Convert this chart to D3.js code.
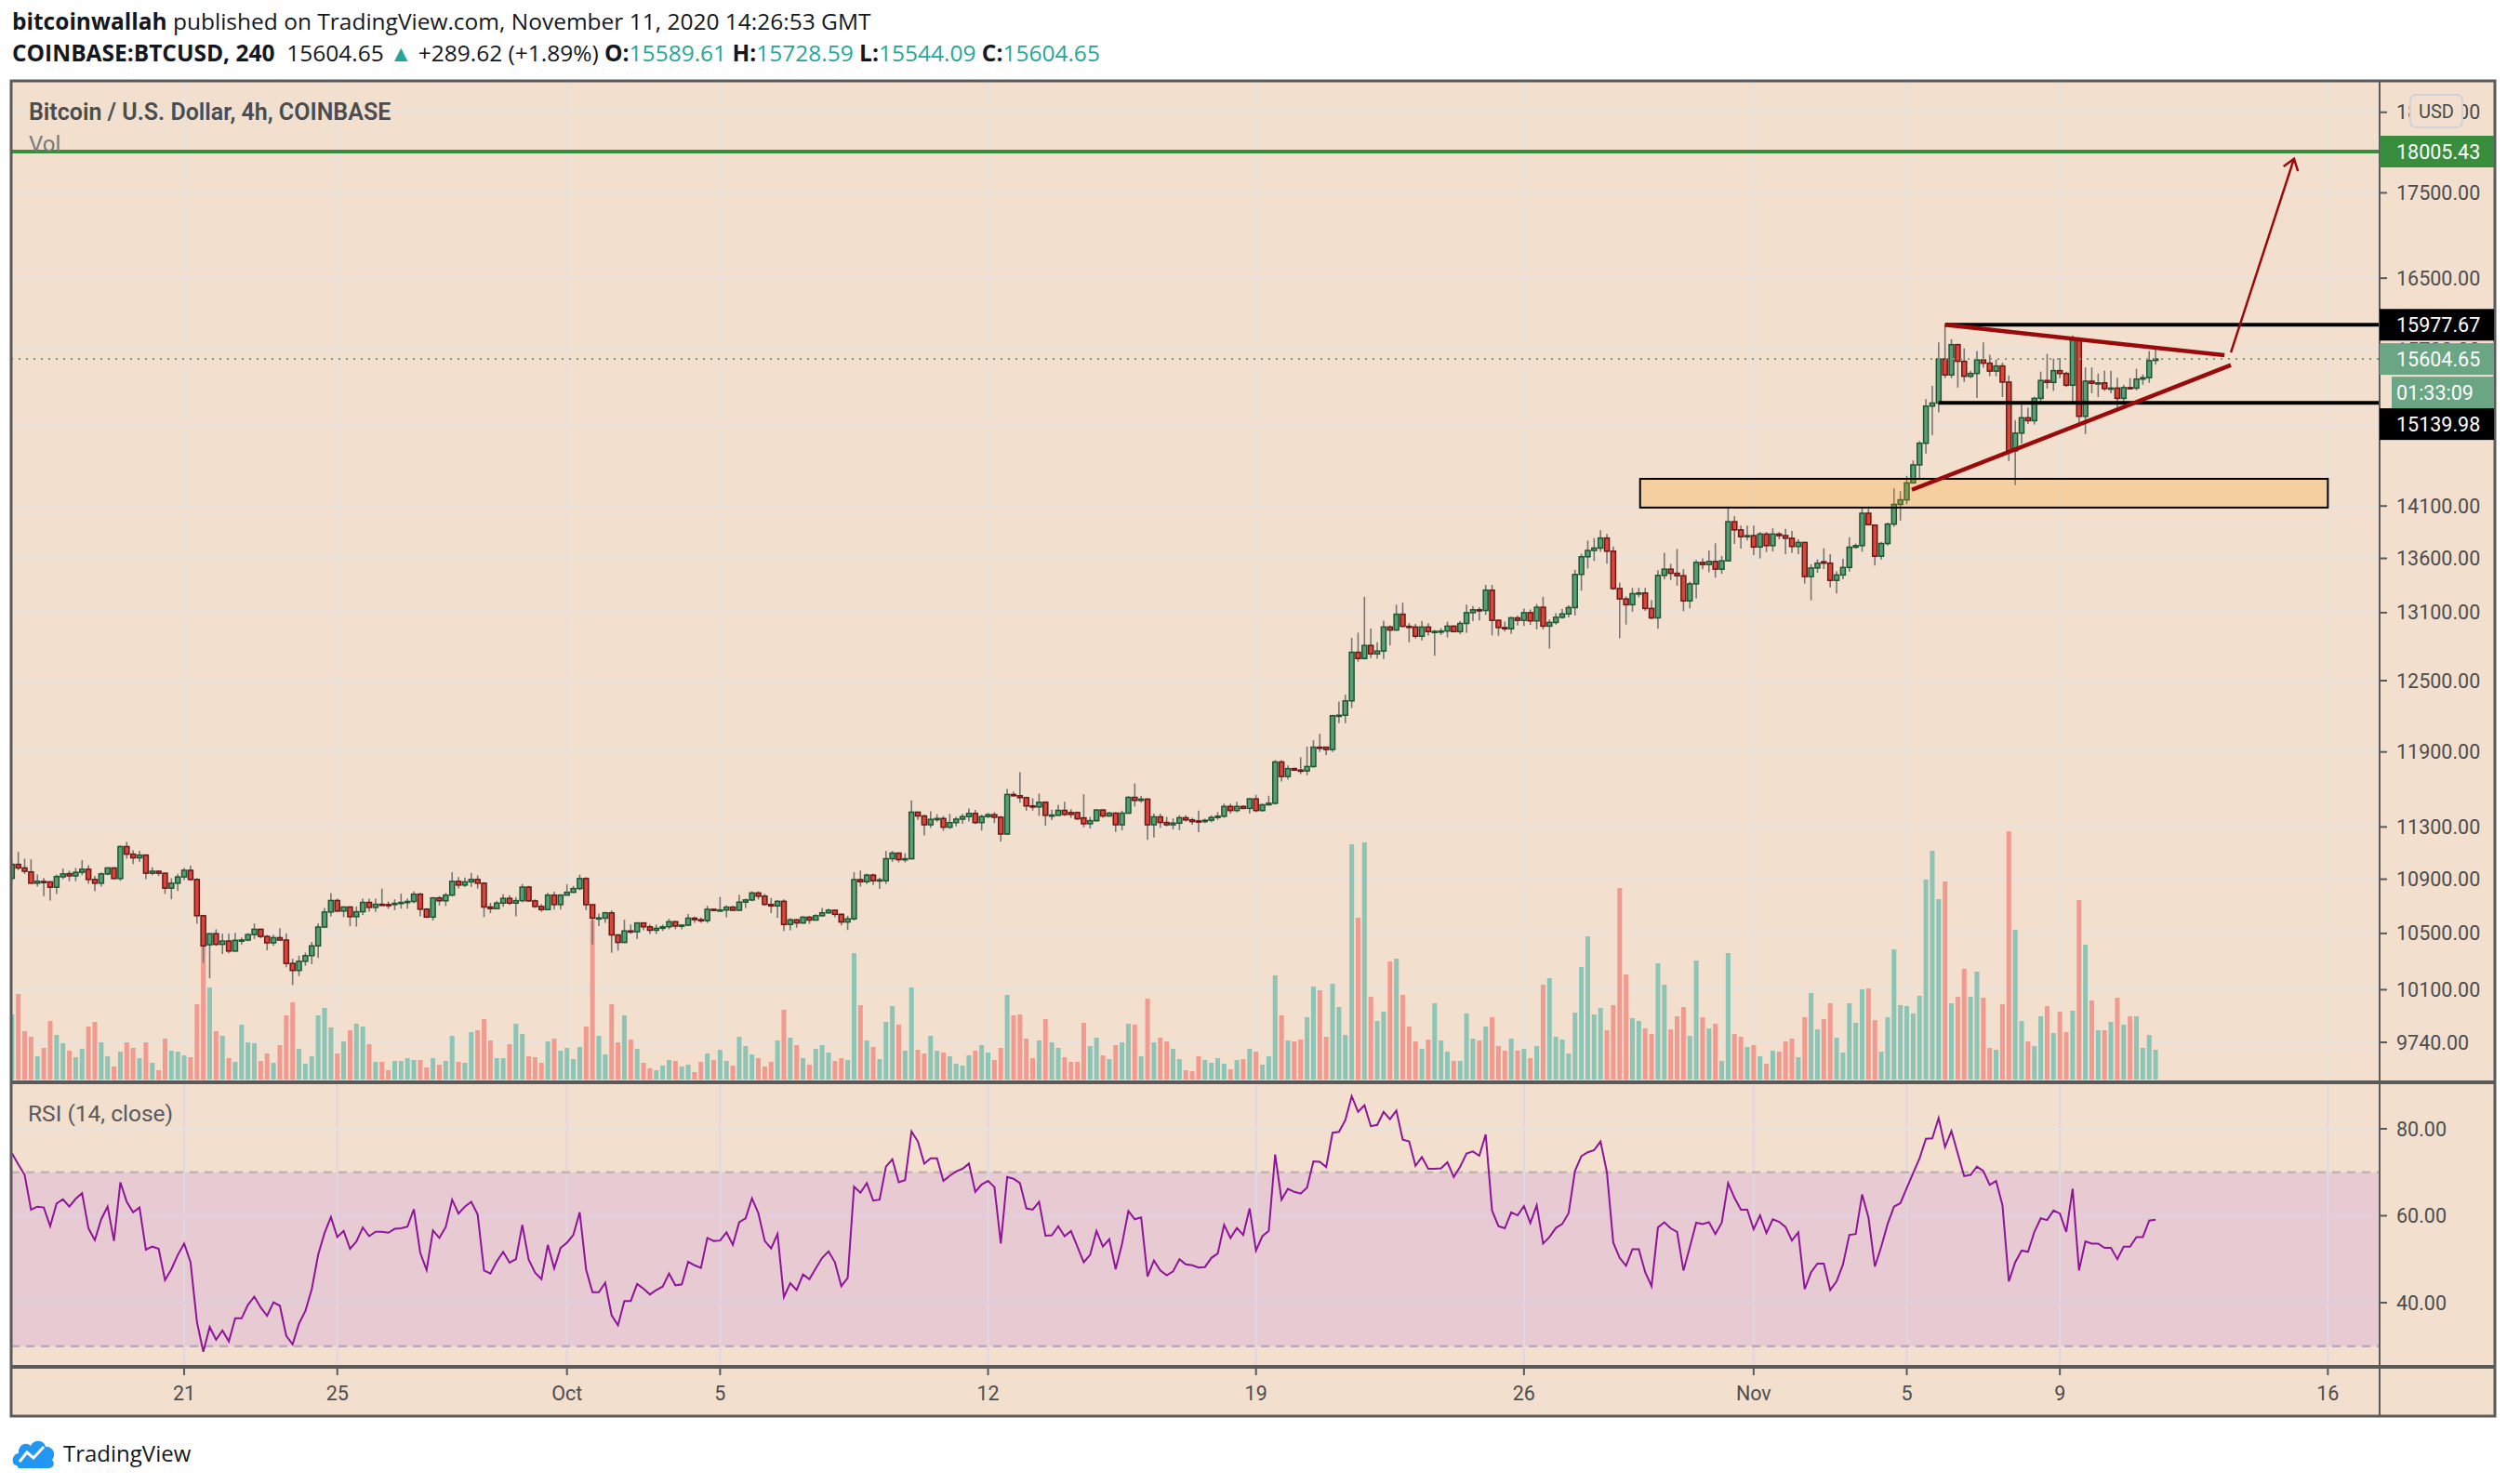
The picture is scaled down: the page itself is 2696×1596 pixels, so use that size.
<!DOCTYPE html>
<html><head><meta charset="utf-8">
<script src="https://cdn.jsdelivr.net/npm/d3@7"></script>
<style>body{margin:0;background:#fff}svg{display:block}</style>
</head><body>
<svg id="c" width="2696" height="1596"></svg>
<script>
// ---------------- DATA ----------------
const startTime = Date.UTC(2020, 8, 16, 12, 0, 0); // first 4h bar
const barMs = 4 * 3600 * 1000;

const opens = [
10907,11012,10985,10955,10870,10883,10880,10840,10918,10942,
10925,10952,10975,10898,10870,10940,10985,10905,11148,11090,
11062,11083,10945,10960,10945,10833,10870,10917,10967,10898,
10629,10418,10498,10421,10445,10373,10450,10452,10491,10530,
10478,10432,10469,10452,10285,10235,10300,10340,10410,10546,
10656,10741,10663,10693,10622,10658,10727,10690,10713,10711,
10711,10720,10727,10734,10788,10677,10619,10760,10739,10781,
10884,10856,10880,10898,10870,10693,10681,10722,10757,10722,
10740,10841,10738,10697,10674,10781,10711,10781,10802,10830,
10905,10710,10611,10611,10650,10489,10435,10518,10512,10576,
10548,10523,10537,10548,10585,10553,10560,10611,10600,10593,
10676,10669,10671,10692,10669,10729,10745,10797,10773,10712,
10701,10735,10565,10599,10576,10618,10597,10629,10650,10669,
10639,10583,10606,10897,10881,10931,10888,10888,11055,11098,
11048,11055,11416,11386,11317,11359,11366,11298,11334,11361,
11381,11406,11334,11381,11396,11376,11245,11556,11546,11531,
11465,11457,11494,11391,11391,11430,11413,11413,11371,11325,
11349,11433,11386,11408,11317,11408,11533,11509,11519,11317,
11379,11335,11317,11330,11372,11355,11347,11342,11352,11374,
11384,11461,11429,11461,11446,11521,11429,11474,11486,11818,
11700,11764,11752,11745,11781,11939,11939,11920,12201,12205,
12327,12747,12692,12807,12733,12758,12971,12944,13086,12977,
12971,12889,12971,12930,12932,12935,12979,12930,13003,13100,
13126,13120,13305,13031,12966,12955,13053,13031,13100,13026,
13149,12979,13012,13058,13089,13146,13450,13615,13674,13697,
13792,13668,13320,13225,13172,13273,13279,13138,13053,13441,
13499,13461,13438,13207,13363,13562,13542,13571,13499,13577,
13948,13870,13805,13815,13707,13830,13720,13830,13815,13790,
13712,13750,13430,13510,13568,13555,13395,13445,13515,13705,
13720,14030,13915,13620,13740,13925,14116,14160,14327,14506,
14724,15106,15138,15605,15434,15760,15580,15420,15450,15595,
15560,15475,15530,15358,14646,14827,14985,14955,15187,15375,
15355,15480,15450,15325,15810,15000,15368,15345,15350,15290,
15295,15187,15300,15295,15390,15405,15589.61];

const highs = [
11030,11107,11055,11050,10935,10910,10885,10935,10980,10965,
10985,11045,11005,10925,10952,10990,10990,11157,11185,11120,
11115,11085,10990,10965,10948,10907,10940,10985,11003,10907,
10636,10502,10530,10498,10498,10504,10470,10502,10572,10534,
10489,10491,10537,10500,10318,10340,10362,10438,10572,10686,
10796,10755,10697,10697,10697,10755,10755,10755,10830,10734,
10750,10792,10757,10808,10797,10686,10767,10774,10797,10953,
10916,10912,10947,10928,10877,10724,10738,10787,10780,10766,
10864,10850,10750,10715,10797,10806,10788,10863,10850,10935,
10916,10710,10645,10657,10668,10489,10600,10565,10576,10580,
10565,10565,10565,10606,10592,10565,10641,10622,10617,10702,
10682,10767,10706,10702,10784,10755,10809,10809,10790,10760,
10743,10750,10611,10604,10627,10627,10640,10685,10681,10676,
10646,10629,10953,10965,10943,10943,10912,11114,11114,11103,
11098,11509,11420,11395,11423,11400,11386,11403,11379,11403,
11445,11433,11396,11410,11416,11386,11600,11580,11735,11538,
11526,11563,11502,11435,11475,11499,11440,11420,11558,11379,
11440,11440,11420,11416,11428,11543,11644,11545,11526,11404,
11404,11379,11367,11392,11392,11372,11429,11365,11392,11416,
11483,11483,11498,11470,11528,11553,11484,11546,11833,11833,
11789,11772,11857,11944,11996,12050,11944,12208,12320,12380,
12875,12921,13245,12958,12835,13028,12985,13172,13190,13006,
12999,13026,13006,12944,12960,13020,12985,13025,13172,13161,
13149,13354,13354,13039,13020,13064,13075,13138,13129,13180,
13245,13039,13095,13132,13166,13493,13644,13768,13792,13866,
13830,13712,13375,13248,13326,13326,13326,13215,13490,13653,
13548,13688,13499,13384,13585,13600,13674,13742,13623,14095,
14002,13910,13910,13910,13850,13850,13885,13850,13880,13860,
13780,13750,13545,13590,13695,13640,13480,13595,13800,13740,
14085,14073,13920,13755,13940,14274,14245,14397,14550,14745,
15178,15318,15784,15977.67,15820,15770,15720,15480,15690,15784,
15650,15600,15565,15430,14962,15124,15090,15205,15470,15660,
15610,15615,15470,15860,15840,15515,15515,15450,15480,15480,
15405,15330,15400,15500,15440,15690,15728.59];

const lows = [
10890,10969,10940,10866,10845,10774,10740,10790,10900,10885,
10885,10930,10865,10810,10845,10930,10902,10888,11055,11015,
11030,10900,10930,10924,10790,10750,10812,10893,10888,10571,
10290,10180,10410,10351,10357,10368,10420,10443,10459,10465,
10378,10410,10448,10257,10133,10196,10268,10279,10323,10545,
10624,10658,10618,10553,10549,10635,10658,10656,10700,10680,
10670,10681,10681,10720,10624,10612,10594,10704,10700,10774,
10830,10842,10842,10830,10619,10647,10676,10694,10708,10624,
10727,10731,10686,10658,10670,10674,10674,10781,10797,10818,
10670,10420,10553,10576,10361,10376,10430,10496,10459,10523,
10496,10496,10518,10530,10530,10530,10553,10576,10576,10576,
10662,10660,10617,10664,10664,10685,10736,10748,10702,10648,
10613,10518,10523,10541,10569,10569,10595,10622,10645,10618,
10558,10525,10594,10845,10864,10857,10828,10864,11031,11027,
11027,11050,11355,11234,11293,11340,11270,11286,11305,11325,
11342,11322,11273,11370,11330,11186,11238,11538,11490,11428,
11428,11386,11310,11354,11386,11386,11371,11352,11298,11288,
11342,11371,11380,11261,11273,11403,11460,11490,11200,11218,
11293,11305,11280,11275,11342,11317,11260,11330,11335,11355,
11372,11404,11416,11440,11404,11416,11420,11469,11476,11660,
11677,11745,11720,11710,11771,11900,11875,11900,12138,12138,
12267,12664,12684,12697,12690,12687,12807,12938,12971,12835,
12868,12851,12895,12717,12900,12878,12925,12908,12920,13023,
13031,13080,12896,12893,12930,12910,12984,12980,12990,12950,
12950,12780,12992,13045,13058,13075,13300,13505,13576,13662,
13551,13306,12870,12993,13109,13240,13117,13040,12955,13404,
13398,13346,13114,13138,13230,13499,13470,13420,13455,13570,
13736,13692,13770,13630,13600,13660,13665,13780,13640,13650,
13640,13365,13212,13465,13500,13330,13275,13405,13475,13690,
13663,13915,13533,13590,13720,13900,13960,14116,14320,14370,
14620,14803,15042,15400,15400,15300,15360,15400,15190,15510,
15420,15420,15200,14545,14305,14720,14920,14915,15124,15290,
15265,15400,15305,15150,14935,14817,15240,15200,15265,15240,
15090,15150,15280,15270,15330,15350,15544.09];

const closes = [
11012,10985,10960,10870,10885,10880,10840,10920,10940,10925,
10952,10975,10898,10870,10940,10985,10905,11148,11090,11062,
11083,10945,10960,10945,10833,10870,10917,10967,10898,10629,
10410,10498,10421,10445,10373,10450,10452,10491,10530,10478,
10432,10469,10452,10285,10235,10300,10340,10410,10546,10656,
10741,10663,10693,10622,10658,10727,10690,10713,10711,10709,
10720,10727,10734,10788,10677,10619,10760,10739,10781,10884,
10856,10880,10898,10870,10693,10681,10722,10757,10722,10740,
10841,10738,10697,10674,10781,10711,10781,10802,10830,10905,
10710,10611,10613,10650,10489,10435,10518,10512,10576,10548,
10523,10537,10548,10585,10553,10560,10611,10600,10593,10676,
10669,10671,10692,10669,10729,10745,10797,10773,10712,10701,
10735,10565,10599,10576,10618,10597,10629,10650,10669,10639,
10583,10606,10897,10881,10931,10888,10895,11055,11098,11048,
11055,11416,11386,11317,11359,11366,11298,11334,11361,11381,
11406,11334,11381,11396,11376,11245,11556,11546,11531,11465,
11457,11494,11391,11393,11430,11398,11398,11364,11325,11349,
11433,11386,11408,11317,11408,11533,11509,11519,11317,11379,
11335,11317,11330,11372,11355,11342,11342,11352,11374,11384,
11461,11429,11461,11446,11521,11429,11474,11486,11818,11700,
11764,11752,11745,11781,11939,11935,11920,12201,12205,12327,
12747,12692,12807,12733,12758,12971,12944,13086,12977,12971,
12889,12971,12930,12932,12935,12979,12930,13003,13100,13126,
13120,13305,13031,12966,12955,13053,13031,13100,13026,13149,
12979,13012,13058,13089,13146,13450,13615,13674,13697,13792,
13668,13320,13225,13172,13273,13279,13138,13053,13441,13499,
13461,13438,13207,13363,13562,13542,13571,13499,13577,13948,
13870,13805,13815,13707,13830,13720,13830,13815,13790,13712,
13750,13430,13510,13555,13555,13395,13445,13515,13705,13720,
14030,13920,13620,13740,13925,14116,14160,14327,14506,14724,
15106,15138,15605,15434,15760,15580,15420,15450,15595,15560,
15475,15530,15358,14646,14827,14985,14955,15187,15375,15355,
15480,15450,15325,15810,15000,15368,15345,15350,15290,15295,
15187,15300,15295,15390,15405,15587,15604.65];

const volumes = [
70,92,52,46,25,34,63,48,39,31,
24,33,57,62,40,25,14,30,40,34,
23,40,18,10,44,31,30,26,24,81,
144,99,52,47,23,19,59,40,39,20,
28,18,37,69,83,33,17,25,69,77,
56,28,41,53,60,57,38,19,19,10,
20,20,23,21,21,13,23,16,20,47,
19,18,51,53,65,42,23,23,38,60,
49,25,24,18,41,44,31,34,22,35,
57,171,47,27,81,40,69,43,33,18,
12,10,15,21,20,14,16,8,19,28,
21,32,20,15,46,36,27,23,14,19,
42,75,45,37,23,16,33,37,29,20,
23,21,136,80,42,35,22,62,79,59,
31,99,32,28,47,31,29,25,17,15,
26,31,37,29,21,34,91,69,70,44,
23,42,65,40,34,24,19,19,61,36,
45,26,22,37,40,60,59,25,87,40,
45,41,33,22,10,9,25,21,18,23,
17,11,21,22,33,30,16,25,112,69,
42,41,43,67,100,96,46,103,78,48,
253,174,255,89,63,73,127,130,91,57,
41,33,43,82,42,30,20,20,71,44,
42,57,67,36,31,44,31,33,23,36,
102,109,46,43,28,72,121,154,70,77,
53,80,206,113,66,63,55,49,125,102,
54,68,78,47,128,67,55,60,20,136,
49,46,35,37,25,17,31,30,41,44,
24,67,93,54,65,82,45,29,82,61,
97,98,64,30,67,140,80,79,71,90,
215,246,194,213,82,89,119,89,116,88,
34,32,81,267,161,63,41,36,68,79,
50,73,51,74,193,145,85,53,53,62,
88,59,68,68,34,48,32];

const rsiValues = [
74.4,71.8,69.4,61.4,62.1,61.9,57.6,62.8,63.8,62.1,
63.9,65.2,57.1,54.4,59.2,62.1,54.2,67.7,63.2,60.8,
61.9,52.2,52.9,52.4,45.2,47.7,51.0,53.6,49.3,35.6,
28.7,34.4,31.5,33.6,31.1,36.4,36.4,39.5,41.4,38.9,
37.0,40.1,39.3,32.4,30.4,35.2,38.1,43.1,51.0,56.0,
59.7,55.1,56.5,52.4,54.1,57.3,55.3,56.3,56.3,56.1,
57.0,57.1,57.5,61.5,51.5,47.5,56.6,54.9,57.4,63.7,
60.5,62.1,63.2,60.3,47.4,46.7,49.5,51.7,49.2,50.0,
57.9,49.9,46.9,45.4,53.3,47.9,52.6,53.8,55.6,60.8,
47.6,42.4,42.4,44.6,37.1,34.8,40.4,40.4,44.3,43.2,
41.9,42.9,43.7,46.7,44.0,44.2,49.4,48.6,48.0,54.9,
54.2,54.3,56.2,53.3,58.5,59.4,64.0,60.6,54.2,52.5,
55.8,41.3,44.5,42.9,46.5,45.4,47.9,50.3,51.8,49.3,
43.8,45.7,66.7,65.3,67.5,63.5,63.7,71.3,73.0,67.7,
68.2,79.4,77.1,72.0,73.2,73.2,68.0,69.2,70.2,70.8,
72.0,65.5,67.2,68.0,66.6,53.6,68.9,68.5,67.5,61.7,
61.4,63.2,55.4,55.5,57.6,55.3,56.5,52.9,49.3,51.0,
56.5,52.9,54.6,47.7,53.5,61.1,59.2,59.6,46.0,49.7,
47.4,46.3,47.2,50.0,48.8,48.6,48.1,48.2,50.3,51.3,
57.9,54.9,57.2,55.6,61.7,52.0,55.3,56.5,74.1,63.7,
66.2,65.5,65.1,66.5,72.5,72.4,71.2,79.1,79.3,82.0,
87.5,83.9,85.4,80.6,80.9,83.9,82.2,84.2,77.5,77.1,
71.5,73.5,70.8,70.8,70.9,72.3,68.9,71.3,74.3,74.8,
73.8,78.7,61.2,57.6,57.1,60.8,60.1,62.2,58.3,62.4,
53.6,55.1,57.2,58.1,60.6,70.3,73.7,74.6,75.1,77.1,
70.0,53.8,50.3,48.5,52.3,52.3,47.0,43.8,57.3,58.5,
57.1,56.3,47.4,52.8,58.4,58.1,58.5,55.8,58.4,67.5,
64.1,61.4,61.4,56.9,60.1,56.0,59.2,58.6,57.4,54.3,
56.2,43.1,47.0,49.0,49.0,42.9,44.9,48.8,55.6,55.8,
64.9,59.6,48.3,52.9,58.1,62.1,62.9,66.4,69.8,73.2,
77.7,77.8,82.5,75.8,79.5,74.3,69.1,69.4,71.3,70.3,
67.1,68.0,62.4,44.9,49.3,52.0,51.7,56.3,59.4,59.0,
61.2,60.5,56.3,66.2,47.4,54.1,53.6,53.6,52.6,52.6,
50.0,52.9,52.9,55.1,55.1,58.9,59.1];

// axes
const timeTickDates = ["2020-09-21","2020-09-25","2020-10-01","2020-10-05","2020-10-12","2020-10-19","2020-10-26","2020-11-01","2020-11-05","2020-11-09","2020-11-16"];
const timeTickLabels = ["21","25","Oct","5","12","19","26","Nov","5","9","16"];
const priceTicks = [18500,17500,16500,15700,14900,14100,13600,13100,12500,11900,11300,10900,10500,10100,9740];
const rsiTicks = [80,60,40];
const rsiBands = [70,30];

// drawings (bar index, price)
const resistanceLevel = 18005.43;
const rangeHigh = 15977.67, rangeHighFromBar = 303;
const rangeLow = 15139.98, rangeLowFromBar = 302;
const lastPrice = 15604.65;
const countdownText = "01:33:09";
const triangleUpper = [[303, 15977.67], [346.8, 15645]];
const triangleLower = [[297.8, 14259], [347.8, 15539]];
const breakoutArrow = [[347.8, 15675], [357.7, 17917]];
const demandZone = {fromBar: 255.2, toBar: 363, top: 14367, bottom: 14085};

// ---------------- LAYOUT ----------------
const L = 12, T = 87, R = 2683, B = 1523, AX = 2559;
const MAIN_B = 1164, RSI_B = 1470;
const FONT = "Roboto, 'Open Sans', sans-serif";
const BG = "#f2dfce";

const svg = d3.select("#c");
const barTime = i => new Date(startTime + i * barMs);

const x = d3.scaleUtc()
  .domain([barTime(0), barTime(363)])
  .range([12.8, 12.8 + 6.861 * 363]);
const y = d3.scaleLog().domain([9740, 18005.43]).range([1121, 163]);
const vy = d3.scaleLinear().domain([0, d3.max(volumes)]).range([1161, 894]);
const ry = d3.scaleLinear().domain([40, 80]).range([1401, 1214]);

const bars = opens.map((o, i) => ({i, t: barTime(i), o, h: highs[i], l: lows[i], c: closes[i], v: volumes[i], up: closes[i] >= o}));

svg.append("rect").attr("width", 2696).attr("height", 1596).attr("fill", "#fff");
svg.append("rect").attr("x", L).attr("y", T).attr("width", R - L).attr("height", B - T).attr("fill", BG);

const defs = svg.append("defs");
defs.append("clipPath").attr("id", "clipMain").append("rect").attr("x", L).attr("y", T).attr("width", AX - L).attr("height", MAIN_B - T);
defs.append("clipPath").attr("id", "clipRsi").append("rect").attr("x", L).attr("y", MAIN_B).attr("width", AX - L).attr("height", RSI_B - MAIN_B);

const tickDates = timeTickDates.map(s => new Date(s + "T00:00:00Z"));

// ---- main pane grid
const gMain = svg.append("g").attr("clip-path", "url(#clipMain)");
gMain.selectAll("line.vg").data(tickDates).join("line")
  .attr("x1", d => x(d)).attr("x2", d => x(d)).attr("y1", T).attr("y2", MAIN_B)
  .attr("stroke", "#e6e2df").attr("stroke-width", 2);
gMain.selectAll("line.hg").data(priceTicks).join("line")
  .attr("x1", L).attr("x2", AX).attr("y1", d => y(d)).attr("y2", d => y(d))
  .attr("stroke", "#e6e2df").attr("stroke-width", 2);

// ---- volume
const bw = 5;
gMain.selectAll("rect.vol").data(bars).join("rect")
  .attr("x", d => x(d.t) - bw / 2).attr("width", bw)
  .attr("y", d => vy(d.v)).attr("height", d => vy(0) - vy(d.v))
  .attr("fill", d => d.up ? "#8cc4b6" : "#f19b90");

// ---- candles
gMain.selectAll("line.wick").data(bars).join("line")
  .attr("x1", d => x(d.t)).attr("x2", d => x(d.t))
  .attr("y1", d => y(d.h)).attr("y2", d => y(d.l))
  .attr("stroke", "#767676").attr("stroke-width", 1.6);
gMain.selectAll("rect.body").data(bars).join("rect")
  .attr("x", d => x(d.t) - bw / 2).attr("width", bw)
  .attr("y", d => y(Math.max(d.o, d.c)))
  .attr("height", d => Math.max(1.2, y(Math.min(d.o, d.c)) - y(Math.max(d.o, d.c))))
  .attr("fill", d => d.up ? "#5a9e78" : "#d8473a")
  .attr("stroke", d => d.up ? "#1e5631" : "#6e1616").attr("stroke-width", 1.5);

// ---- drawings
const pt = ([b, p]) => [x(barTime(b)), y(p)];
gMain.append("rect")
  .attr("x", x(barTime(demandZone.fromBar))).attr("width", x(barTime(demandZone.toBar)) - x(barTime(demandZone.fromBar)))
  .attr("y", y(demandZone.top)).attr("height", y(demandZone.bottom) - y(demandZone.top))
  .attr("fill", "rgba(255,152,0,0.22)").attr("stroke", "#000").attr("stroke-width", 2);

gMain.append("line").attr("x1", L).attr("x2", AX).attr("y1", y(resistanceLevel)).attr("y2", y(resistanceLevel))
  .attr("stroke", "#388e3c").attr("stroke-width", 4);
gMain.append("line").attr("x1", L).attr("x2", AX).attr("y1", y(lastPrice)).attr("y2", y(lastPrice))
  .attr("stroke", "#6aa584").attr("stroke-width", 2).attr("stroke-dasharray", "2,6");
gMain.append("line").attr("x1", x(barTime(rangeHighFromBar))).attr("x2", AX).attr("y1", y(rangeHigh)).attr("y2", y(rangeHigh))
  .attr("stroke", "#000").attr("stroke-width", 4);
gMain.append("line").attr("x1", x(barTime(rangeLowFromBar))).attr("x2", AX).attr("y1", y(rangeLow)).attr("y2", y(rangeLow))
  .attr("stroke", "#000").attr("stroke-width", 4);

const lineGen = d3.line();
[triangleUpper, triangleLower].forEach(seg => {
  gMain.append("path").attr("d", lineGen(seg.map(pt))).attr("fill", "none")
    .attr("stroke", "#9a0a0a").attr("stroke-width", 4.5);
});
const a0 = pt(breakoutArrow[0]), a1 = pt(breakoutArrow[1]);
gMain.append("path").attr("d", lineGen([a0, a1])).attr("fill", "none").attr("stroke", "#9a0a0a").attr("stroke-width", 2.5);
{
  const ang = Math.atan2(a1[1] - a0[1], a1[0] - a0[0]);
  const hl = 14, spread = 0.62;
  const h1 = [a1[0] - hl * Math.cos(ang - spread), a1[1] - hl * Math.sin(ang - spread)];
  const h2 = [a1[0] - hl * Math.cos(ang + spread), a1[1] - hl * Math.sin(ang + spread)];
  gMain.append("path").attr("d", lineGen([h1, a1, h2])).attr("fill", "none").attr("stroke", "#9a0a0a").attr("stroke-width", 2.5);
}

// ---- RSI pane
const gRsi = svg.append("g").attr("clip-path", "url(#clipRsi)");
gRsi.append("rect").attr("x", L).attr("width", AX - L)
  .attr("y", ry(rsiBands[0])).attr("height", ry(rsiBands[1]) - ry(rsiBands[0])).attr("fill", "#e8cad3");
gRsi.selectAll("line.vg").data(tickDates).join("line")
  .attr("x1", d => x(d)).attr("x2", d => x(d)).attr("y1", MAIN_B).attr("y2", RSI_B)
  .attr("stroke", d => "#e2d6e2").attr("stroke-width", 2);
gRsi.selectAll("line.hg").data(rsiTicks).join("line")
  .attr("x1", L).attr("x2", AX).attr("y1", d => ry(d)).attr("y2", d => ry(d))
  .attr("stroke", d => d > 70 ? "#e6e2df" : "#dccfe3").attr("stroke-width", 2);
gRsi.selectAll("line.band").data(rsiBands).join("line")
  .attr("x1", L).attr("x2", AX).attr("y1", d => ry(d)).attr("y2", d => ry(d))
  .attr("stroke", (d, i) => i === 0 ? "#bdb6b3" : "#bcaabb").attr("stroke-width", 2.5).attr("stroke-dasharray", "9,7");
gRsi.append("path")
  .attr("d", d3.line().x((d, i) => x(barTime(i))).y(d => ry(d))(rsiValues))
  .attr("fill", "none").attr("stroke", "#8e1599").attr("stroke-width", 2);

// ---- frame
const frameC = "#5a5a5a";
svg.append("rect").attr("x", L).attr("y", T).attr("width", R - L).attr("height", B - T)
  .attr("fill", "none").attr("stroke", frameC).attr("stroke-width", 3);
svg.append("line").attr("x1", AX).attr("x2", AX).attr("y1", T).attr("y2", B).attr("stroke", frameC).attr("stroke-width", 2);
[MAIN_B, RSI_B].forEach(yy => svg.append("line").attr("x1", L).attr("x2", R).attr("y1", yy).attr("y2", yy)
  .attr("stroke", frameC).attr("stroke-width", 4));

// ---- price axis
const axisTxt = "#4d4d4d";
const gAx = svg.append("g");
gAx.selectAll("line.pt").data(priceTicks).join("line")
  .attr("x1", AX).attr("x2", AX + 8).attr("y1", d => y(d)).attr("y2", d => y(d)).attr("stroke", frameC).attr("stroke-width", 2);
gAx.selectAll("text.pt").data(priceTicks).join("text")
  .attr("x", 2577).attr("y", d => y(d) + 7.5).text(d => d3.format(".2f")(d))
  .attr("font-family", FONT).attr("font-size", 21.5).attr("fill", axisTxt);
gAx.selectAll("line.rt").data(rsiTicks).join("line")
  .attr("x1", AX).attr("x2", AX + 8).attr("y1", d => ry(d)).attr("y2", d => ry(d)).attr("stroke", frameC).attr("stroke-width", 2);
gAx.selectAll("text.rt").data(rsiTicks).join("text")
  .attr("x", 2577).attr("y", d => ry(d) + 7.5).text(d => d3.format(".2f")(d))
  .attr("font-family", FONT).attr("font-size", 21.5).attr("fill", axisTxt);

// ---- time axis
gAx.selectAll("line.tt").data(tickDates).join("line")
  .attr("x1", d => x(d)).attr("x2", d => x(d)).attr("y1", RSI_B).attr("y2", RSI_B + 9).attr("stroke", frameC).attr("stroke-width", 2);
gAx.selectAll("text.tt").data(tickDates).join("text")
  .attr("x", d => x(d)).attr("y", 1506).attr("text-anchor", "middle").text((d, i) => timeTickLabels[i])
  .attr("font-family", FONT).attr("font-size", 21.5).attr("fill", axisTxt);

// ---- price labels (overlays)
const boxH = 34;
function priceBox(yc, txt, fill, x0) {
  const g = svg.append("g");
  g.append("rect").attr("x", x0 || AX).attr("y", yc - boxH / 2).attr("width", R - 1 - (x0 || AX)).attr("height", boxH).attr("fill", fill);
  g.append("text").attr("x", 2577).attr("y", yc + 7.5).text(txt)
    .attr("font-family", FONT).attr("font-size", 21.5).attr("fill", "#fff");
}
priceBox(y(resistanceLevel), d3.format(".2f")(resistanceLevel), "#388e3c");
priceBox(y(rangeHigh), d3.format(".2f")(rangeHigh), "#000");
const lastY = y(lastPrice);
priceBox(lastY, d3.format(".2f")(lastPrice), "#6aa584");
const cdY = lastY + boxH + 2;
priceBox(cdY, countdownText, "#6aa584", 2572);
const lowY = Math.max(y(rangeLow), cdY + boxH);
priceBox(lowY, d3.format(".2f")(rangeLow), "#000");

// USD button
svg.append("rect").attr("x", 2592).attr("y", 102).attr("width", 56).attr("height", 35).attr("rx", 6)
  .attr("fill", BG).attr("stroke", "#cfd2da").attr("stroke-width", 2);
svg.append("text").attr("x", 2620).attr("y", 127).attr("text-anchor", "middle").text("USD")
  .attr("font-family", FONT).attr("font-size", 20).attr("fill", "#4a4a4a");

// ---- legends
svg.append("text").attr("x", 31).attr("y", 129).text("Bitcoin / U.S. Dollar, 4h, COINBASE")
  .attr("font-family", FONT).attr("font-size", 25).attr("font-weight", 600).attr("fill", "#4c4c4c");
svg.append("text").attr("x", 31).attr("y", 163).text("Vol")
  .attr("font-family", FONT).attr("font-size", 24).attr("fill", "#7a7a7a");
svg.append("text").attr("x", 30).attr("y", 1206).text("RSI (14, close)")
  .attr("font-family", FONT).attr("font-size", 24.5).attr("fill", "#5a5a5a");

// ---- header
const HF = "'Open Sans', 'Noto Sans', sans-serif";
const h1 = svg.append("text").attr("x", 13).attr("y", 32).attr("font-family", HF).attr("font-size", 24.5).attr("fill", "#131722");
h1.append("tspan").attr("font-weight", 700).text("bitcoinwallah");
h1.append("tspan").text(" published on TradingView.com, November 11, 2020 14:26:53 GMT");
const teal = "#26a69a";
const h2 = svg.append("text").attr("x", 13).attr("y", 66).attr("font-family", HF).attr("font-size", 24.5).attr("fill", "#131722");
const headerParts = [
  ["COINBASE:BTCUSD, 240", 700, "#131722"], ["  15604.65 ", 400, "#131722"], ["▲", 400, teal],
  [" +289.62 (+1.89%) ", 400, "#131722"],
  ["O:", 700, "#131722"], ["15589.61", 400, teal], [" H:", 700, "#131722"], ["15728.59", 400, teal],
  [" L:", 700, "#131722"], ["15544.09", 400, teal], [" C:", 700, "#131722"], ["15604.65", 400, teal]
];
headerParts.forEach(([t, w, c]) => h2.append("tspan").attr("font-weight", w).attr("fill", c).text(t));
h2.attr("style", "white-space:pre");

// ---- footer logo
const gl = svg.append("g").attr("transform", "translate(14,1546)");
gl.append("path").attr("d", "M4,30 C-2,30 -2,18 6,17 C5,8 14,4 19,9 C22,2 33,2 35,10 C43,9 47,18 42,24 C46,28 43,33 38,33 L6,33 Z")
  .attr("fill", "#2196f3");
gl.append("path").attr("d", "M7,26 L15,16 L22,22 L33,10").attr("fill", "none").attr("stroke", "#fff").attr("stroke-width", 3);
svg.append("text").attr("x", 68).attr("y", 1572).text("TradingView")
  .attr("font-family", HF).attr("font-size", 24).attr("fill", "#131722");
</script>
</body></html>
